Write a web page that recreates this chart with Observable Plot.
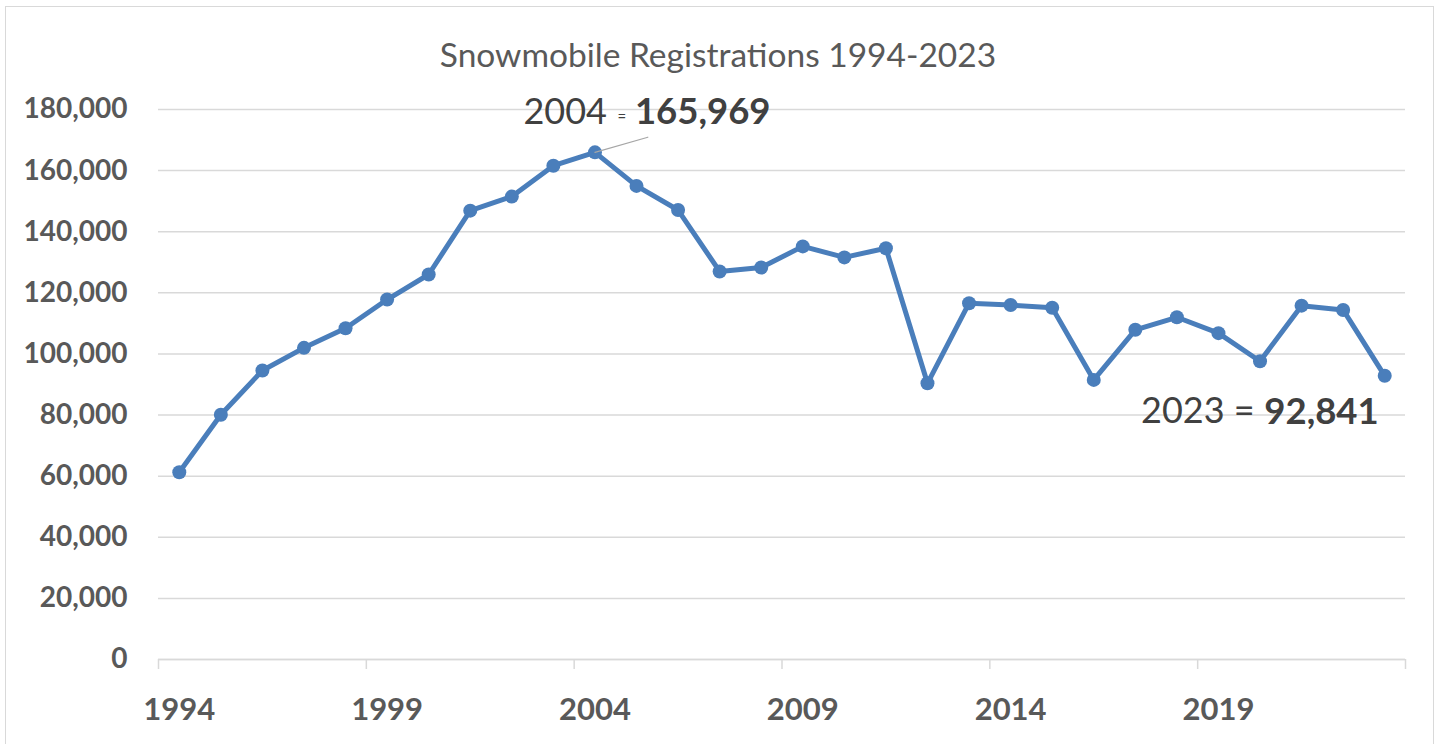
<!DOCTYPE html>
<html>
<head>
<meta charset="utf-8">
<script src="https://cdn.jsdelivr.net/npm/d3@7"></script>
<script src="https://cdn.jsdelivr.net/npm/@observablehq/plot@0.6"></script>
<style>
  html, body { margin: 0; padding: 0; background: #fff; }
  #wrap { position: relative; width: 1439px; height: 744px; overflow: hidden; background: #fff; }
  #frame { position: absolute; left: 5px; top: 6px; width: 1429px; height: 800px; border: 1.5px solid #d9d9d9; box-sizing: border-box; }
  #title { position: absolute; left: 0; top: 38px; width: 1436px; text-align: center; font-family: Lato, sans-serif; font-size: 33.5px; line-height: 33.5px; color: #595959; z-index: 2; }
  #chart { position: absolute; left: 0; top: 0; }
</style>
</head>
<body>
<div id="wrap">
  <div id="frame"></div>
  <div id="title">Snowmobile Registrations 1994-2023</div>
  <div id="chart"></div>
</div>
<script>
const years = [1994, 1995, 1996, 1997, 1998, 1999, 2000, 2001, 2002, 2003,
               2004, 2005, 2006, 2007, 2008, 2009, 2010, 2011, 2012, 2013,
               2014, 2015, 2016, 2017, 2018, 2019, 2020, 2021, 2022, 2023];
const registrations = [61300, 80100, 94600, 102000, 108400, 117800, 126000, 146900, 151500, 161600,
                       165969, 155000, 147100, 127000, 128300, 135200, 131600, 134600, 90400, 116600,
                       116000, 115100, 91500, 107900, 112000, 106800, 97600, 115800, 114400, 92841];
const xTickLabels = [1994, 1999, 2004, 2009, 2014, 2019];
const xTickMarks = [1993.5, 1998.5, 2003.5, 2008.5, 2013.5, 2018.5, 2023.5];
const yTicks = [0, 20000, 40000, 60000, 80000, 100000, 120000, 140000, 160000, 180000];
const peakYear = [2004];
const lastYear = [2023];

const data = years.map((year, i) => ({year, value: registrations[i]}));
const peak = data.filter(d => peakYear.includes(d.year));
const last = data.filter(d => lastYear.includes(d.year));

const fmt = d3.format(",");
const blue = "#4a7ebb";
const grid = "#d9d9d9";
const axisText = "#595959";
const annText = "#404040";

const leader = {
  draw(context, l) {
    context.moveTo(0, 0);
    context.lineTo(0, -l);
  }
};

const chart = Plot.plot({
  width: 1439,
  height: 744,
  marginLeft: 158,
  marginRight: 34,
  marginTop: 109,
  marginBottom: 85,
  style: {fontFamily: "Lato, sans-serif", background: "transparent", overflow: "visible"},
  x: {domain: [1993.5, 2023.5], label: null},
  y: {domain: [0, 180000], label: null},
  marks: [
    Plot.gridY(yTicks, {stroke: grid, strokeOpacity: 1, strokeWidth: 1.5}),
    Plot.axisX(xTickMarks, {tickSize: 10, tickFormat: () => "", stroke: grid, strokeWidth: 1.5, strokeOpacity: 1, label: null}),
    Plot.axisX(xTickLabels, {tickSize: 0, tickPadding: 38, tickFormat: d => String(d), fontSize: 31, fontWeight: "bold", fill: axisText, label: null}),
    Plot.axisY(yTicks, {tickSize: 0, tickPadding: 31, tickFormat: fmt, fontSize: 28, fontWeight: "bold", fill: axisText, label: null}),
    Plot.ruleY([0], {stroke: grid, strokeWidth: 1.5}),
    Plot.line(data, {x: "year", y: "value", stroke: blue, strokeWidth: 5, strokeLinejoin: "round"}),
    Plot.dot(data, {x: "year", y: "value", r: 7, fill: blue, stroke: null}),
    Plot.vector(peak, {x: "year", y: "value", length: 55, rotate: 74, anchor: "start", stroke: "#a6a6a6", strokeWidth: 1.2, shape: leader}),
    Plot.text(peak, {x: "year", y: "value", text: d => String(d.year), textAnchor: "end", dx: 12, dy: -40, fontSize: 36, fill: annText}),
    Plot.text(peak, {x: "year", y: "value", text: () => "=", textAnchor: "middle", dx: 27, dy: -35, fontSize: 15, fill: annText}),
    Plot.text(peak, {x: "year", y: "value", text: d => fmt(d.value), textAnchor: "start", dx: 40, dy: -40, fontSize: 36.5, fontWeight: "bold", fill: annText}),
    Plot.text(last, {x: "year", y: "value", text: d => d.year + " =", textAnchor: "end", dx: -130, dy: 36, fontSize: 36, fill: annText}),
    Plot.text(last, {x: "year", y: "value", text: d => fmt(d.value), textAnchor: "end", dx: -6, dy: 36, fontSize: 36.5, fontWeight: "bold", fill: annText})
  ]
});
document.getElementById("chart").appendChild(chart);
</script>
</body>
</html>
